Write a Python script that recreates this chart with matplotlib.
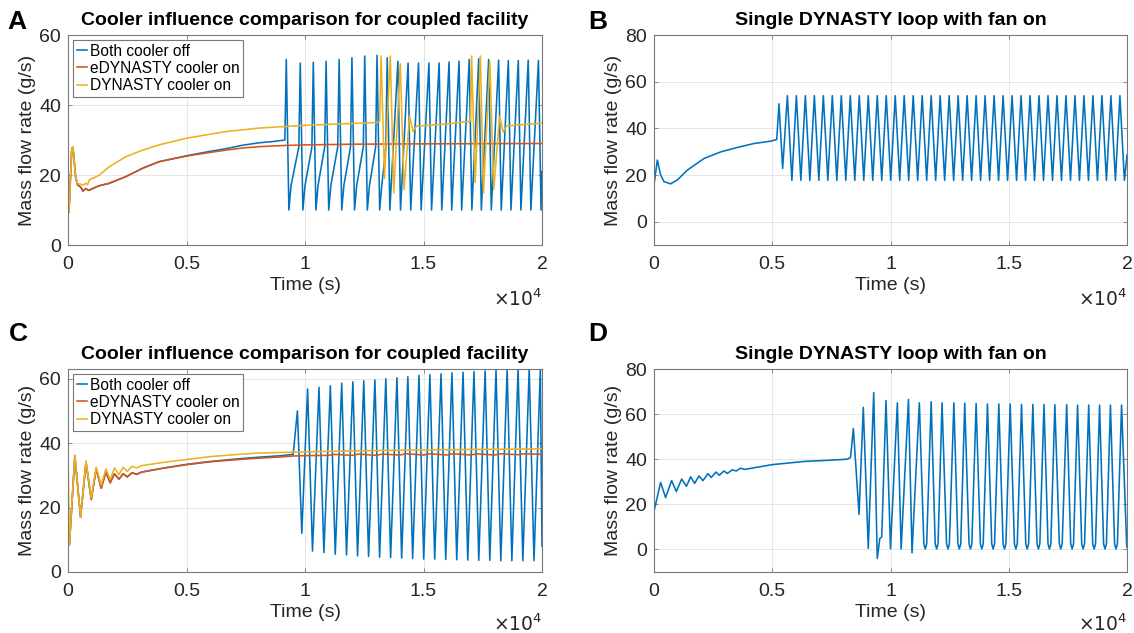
import numpy as np
import matplotlib
matplotlib.use("Agg")
import matplotlib.pyplot as plt

plt.rcParams['font.family'] = ['Liberation Sans', 'DejaVu Sans']

BLUE, RED, YEL = '#0072BD', '#D95319', '#EDB120'

# ---------------- Panel A : coupled facility ----------------
a_red_t = [0, 40, 160, 210, 320, 400, 530, 630, 750, 880, 1030, 1300, 1730, 2430, 3140, 3840,
           5000, 5950, 6650, 7360, 8060, 9000, 10000, 12000, 15000, 20000]
a_red_v = [17.5, 9.4, 27.6, 27.9, 19.5, 17.2, 16.6, 15.4, 16.1, 15.6, 16.1, 16.9, 17.6, 19.5, 21.9, 23.8,
           25.4, 26.4, 27.1, 27.7, 28.1, 28.4, 28.6, 28.8, 28.9, 29.0]

a_blue_pre_t = [0, 40, 160, 210, 320, 400, 530, 630, 750, 880, 1030, 1300, 1730, 2430, 3140, 3840,
                5000, 5950, 6650, 7360, 8060, 8700, 9150]
a_blue_pre_v = [17.5, 9.4, 27.6, 27.9, 19.5, 17.2, 16.6, 15.4, 16.1, 15.6, 16.1, 16.9, 17.6, 19.5, 21.9, 23.8,
                25.5, 26.7, 27.5, 28.5, 29.2, 29.6, 30.0]
a_blue_peak_t = [9210, 9800, 10350, 10890, 11440, 11980, 12520, 13040, 13470, 13920, 14350, 14790,
                 15230, 15660, 16080, 16500, 16930, 17330, 17750, 18170, 18580, 19000, 19420, 19850]
a_blue_peak_v = [53, 52, 52.2, 52.5, 53, 53.5, 54, 54.2, 53.5, 52.5, 52, 52, 52, 52, 52.3, 52.5,
                 53, 53.2, 53, 52.8, 52.7, 52.7, 52.8, 52.7]
a_blue_trough_v = 10.0
a_blue_knee_v = 17.0          # early cycles: quick recovery level
a_blue_top_v = 28.0           # early cycles: level before the next spike
a_blue_knee_until = 13100     # cycles after this rise straight to the next peak
a_blue_end = (20000, 21.0)

a_yel_t = [0, 40, 160, 210, 320, 400, 530, 630, 750, 820, 910, 1030, 1310, 1730, 2430, 3140, 3840,
           5000, 5950, 6650, 7360, 8060, 9000, 10000, 11500, 13000, 13150,
           13210, 13355, 13600, 13745, 14020, 14180, 14410, 14560, 14710, 15000, 16000, 16900, 16990,
           17030, 17180, 17400, 17530, 17800, 17965, 18210, 18370, 18500, 19000, 20000]
a_yel_v = [17.5, 9.4, 27.6, 27.9, 19.5, 17.5, 17.4, 17.1, 17.6, 17.2, 18.7, 19.0, 19.9, 22.3, 25.2, 27.1, 28.6,
           30.5, 31.6, 32.4, 32.9, 33.4, 33.8, 34.2, 34.6, 35.0, 35.3,
           54, 19, 54, 14.9, 51.8, 15.9, 36.8, 32.4, 34.0, 34.1, 34.6, 35.3, 35.5,
           54, 17.8, 54, 14.9, 52.5, 15.9, 36.8, 32.2, 34.0, 34.3, 34.8]

# ---------------- Panel B : single loop, fan on ----------------
b_pre_t = [0, 140, 280, 420, 700, 990, 1410, 2120, 2820, 3520, 4230, 4930, 5190, 5285, 5440]
b_pre_v = [15.8, 26.4, 20.0, 17.2, 16.2, 17.9, 22.1, 27.1, 29.9, 31.8, 33.5, 34.5, 35.2, 50.5, 22.8]
b_peak_t = [5640, 6020, 6400, 6780, 7160, 7540, 7920, 8300, 8680, 9060, 9440, 9820, 10200, 10580,
            10960, 11340, 11720, 12100, 12480, 12860, 13240, 13620, 14000, 14380, 14760, 15140,
            15520, 15900, 16280, 16660, 17040, 17420, 17800, 18180, 18560, 18940, 19320, 19700]
b_peak_v = 54.0
b_trough_v = 17.7
b_end = (20000, 28.5)

# ---------------- Panel C : coupled facility ----------------
c_early_t = [0, 60, 290, 530, 760, 980, 1190, 1400, 1600, 1780, 1960, 2150, 2330, 2500, 2700, 2900, 3100]
c_blue_early_v = [13, 8.5, 36, 17, 34, 22.5, 32, 26, 31, 27.7, 30.5, 28.8, 30.5, 29.5, 30.8, 30.3, 31]
c_red_early_v = [13, 8.5, 36, 17, 34, 22.5, 32, 26, 31, 27.7, 30.5, 28.8, 30.5, 29.5, 30.8, 30.3, 31]
c_yel_early_v = [35, 8.5, 36.3, 17, 34.5, 23, 32.5, 27, 32, 28.7, 32.3, 30.2, 32.5, 31.2, 32.8, 32.3, 33]
c_late_t = [4000, 5000, 6000, 7000, 8000, 9000, 9500]
c_blue_late_v = [32.2, 33.4, 34.3, 35.0, 35.6, 36.1, 36.5]
c_red_late_v = [32.2, 33.3, 34.2, 34.8, 35.3, 35.7, 36.0]
c_yel_late_v = [34.0, 34.9, 35.8, 36.4, 36.9, 37.1, 37.2]
c_red_tail_t = [10000, 11000, 11250, 12000, 12250, 13000, 13250, 14000, 14250, 15000, 15250,
                16000, 16250, 17000, 17250, 18000, 18250, 19000, 19250, 20000]
c_red_tail_v = [36.1, 36.2, 36.5, 36.2, 36.6, 36.2, 36.6, 36.3, 36.7, 36.3, 36.7,
                36.3, 36.7, 36.3, 36.7, 36.3, 36.7, 36.4, 36.7, 36.5]
c_yel_tail_t = [10000, 12000, 15000, 20000]
c_yel_tail_v = [37.3, 37.6, 37.9, 38.2]
c_blue_peak_t = [9680, 10110, 10590, 11070, 11550, 12020, 12480, 12950, 13410, 13880, 14340, 14810,
                 15270, 15740, 16200, 16670, 17130, 17600, 18060, 18530, 18990, 19460, 19930]
c_blue_peak_v = [50, 56.8, 57.3, 57.8, 58.6, 59, 59.3, 59.6, 60, 60.3, 60.6, 61, 61.2, 61.5, 61.8,
                 62, 62.2, 62.4, 62.6, 62.8, 63, 63, 63]
c_blue_trough_v = [12, 6.5, 6, 5.5, 5.3, 5, 4.8, 4.6, 4.5, 4.3, 4.2, 4, 4, 3.9, 3.8, 3.7, 3.6, 3.6,
                   3.5, 3.5, 3.5, 3.5]
c_blue_end = (20000, 8.0)

# ---------------- Panel D : single loop, fan on ----------------
d_pre_t = [0, 280, 490, 745, 945, 1170, 1370, 1550, 1720, 1900, 2070, 2280, 2420, 2620, 2760, 2960,
           3100, 3310, 3480, 3660, 3840, 4230, 5000, 6340, 7500, 8170, 8310]
d_pre_v = [16.9, 29.7, 23, 30.5, 25.7, 31.2, 28, 32.2, 29.3, 32.6, 30.5, 33.6, 31.9, 34.3, 32.9, 34.8,
           33.7, 35.3, 34.8, 36, 35.5, 36.2, 37.6, 39, 39.6, 40, 40.8]
d_tr_t = [8430, 8670, 8850, 9060, 9290, 9440, 9550, 9630, 9810, 10000, 10290, 10450, 10760, 10910]
d_tr_v = [53.6, 15.5, 63, 0.5, 69.5, -4, 5, 5.5, 66, 0.3, 65, 0.2, 66.5, -1.5]
d_peak_t = [11220, 11720, 12180, 12680, 13140, 13620, 14100, 14580, 15060, 15540, 16020, 16490,
            16950, 17450, 17910, 18380, 18840, 19300, 19770]
d_peak_v = [65, 65.5, 65, 65, 64.8, 64.7, 64.5, 64.5, 64.5, 64.3, 64.3, 64.3, 64.2, 64.2, 64, 64, 64, 64, 64]
d_trough_v = 0.2
d_shoulder_v = 2.5   # value ~60 s either side of each rounded trough
d_end = (20000, 3.0)

xtick_vals = [0, 5000, 10000, 15000, 20000]
xtick_labels = ['0', '0.5', '1', '1.5', '2']


def merge(*parts):
    t = np.concatenate([np.asarray(p[0], float) for p in parts])
    v = np.concatenate([np.asarray(p[1], float) for p in parts])
    o = np.argsort(t, kind='stable')
    return t[o], v[o]


# build A blue
pk = np.array(a_blue_peak_t, float)
nxt = np.append(pk[1:], a_blue_end[0] + 60)
early = pk < a_blue_knee_until
early_next = early[:-1]
a_blue_t, a_blue_v = merge(
    (a_blue_pre_t, a_blue_pre_v),
    (pk, a_blue_peak_v),
    (pk + 110, np.full(len(pk), a_blue_trough_v)),
    (pk[early] + 200, np.full(early.sum(), a_blue_knee_v)),
    (nxt[:-1][early_next] - 60, np.full(early_next.sum(), a_blue_top_v)),
    ([a_blue_end[0]], [a_blue_end[1]]))

# build B
bp = np.array(b_peak_t, float)
btr = (bp[:-1] + bp[1:]) / 2
b_t, b_v = merge((b_pre_t, b_pre_v), (bp, np.full(len(bp), b_peak_v)),
                 (btr, np.full(len(btr), b_trough_v)), ([19890], [b_trough_v]), ([b_end[0]], [b_end[1]]))

# build C
cp = np.array(c_blue_peak_t, float)
ctr = cp[:-1] + 0.43 * np.diff(cp)
c_blue_t, c_blue_v = merge((c_early_t, c_blue_early_v), (c_late_t, c_blue_late_v),
                           (cp, c_blue_peak_v), (ctr, c_blue_trough_v), ([c_blue_end[0]], [c_blue_end[1]]))
c_red_t, c_red_v = merge((c_early_t, c_red_early_v), (c_late_t, c_red_late_v), (c_red_tail_t, c_red_tail_v))
c_yel_t, c_yel_v = merge((c_early_t, c_yel_early_v), (c_late_t, c_yel_late_v), (c_yel_tail_t, c_yel_tail_v))

# build D
dp = np.array(d_peak_t, float)
dprev = np.insert(dp[:-1], 0, d_tr_t[-2])
dtr = ((dprev + dp) / 2)[1:]
d_t, d_v = merge((d_pre_t, d_pre_v), (d_tr_t, d_tr_v), (dp, d_peak_v),
                 (dtr, np.full(len(dtr), d_trough_v)),
                 (dtr - 60, np.full(len(dtr), d_shoulder_v)),
                 (dtr + 60, np.full(len(dtr), d_shoulder_v)),
                 ([19990], [1.0]), ([d_end[0]], [d_end[1]]))

fig = plt.figure(figsize=(11.34, 6.33), dpi=100)
W, H = 1134, 633


def mkax(l, t, r, b):
    return fig.add_axes([l / W, 1 - b / H, (r - l) / W, (b - t) / H])


axA = mkax(68, 35, 542, 245)
axB = mkax(654, 35, 1127, 245)
axC = mkax(68, 369, 542, 572)
axD = mkax(654, 369, 1127, 572)

LW = 1.15
axA.plot(a_blue_t, a_blue_v, color=BLUE, lw=LW, label='Both cooler off')
axA.plot(a_red_t, a_red_v, color=RED, lw=LW, label='eDYNASTY cooler on')
axA.plot(a_yel_t, a_yel_v, color=YEL, lw=LW, label='DYNASTY cooler on')
axB.plot(b_t, b_v, color=BLUE, lw=LW)
axC.plot(c_blue_t, c_blue_v, color=BLUE, lw=LW, label='Both cooler off')
axC.plot(c_red_t, c_red_v, color=RED, lw=LW, label='eDYNASTY cooler on')
axC.plot(c_yel_t, c_yel_v, color=YEL, lw=LW, label='DYNASTY cooler on')
axD.plot(d_t, d_v, color=BLUE, lw=LW)

FS = 14
settings = [
    (axA, (0, 60), [0, 20, 40, 60], 'Cooler influence comparison for coupled facility'),
    (axB, (-10, 80), [0, 20, 40, 60, 80], 'Single DYNASTY loop with fan on'),
    (axC, (0, 63), [0, 20, 40, 60], 'Cooler influence comparison for coupled facility'),
    (axD, (-10, 80), [0, 20, 40, 60, 80], 'Single DYNASTY loop with fan on'),
]
for ax, yl, yt, title in settings:
    ax.set_xlim(0, 20000)
    ax.set_ylim(*yl)
    ax.set_xticks(xtick_vals)
    ax.set_xticklabels(xtick_labels)
    ax.set_yticks(yt)
    ax.grid(True, color='#e3e3e3', lw=0.6)
    ax.set_axisbelow(True)
    for s in ax.spines.values():
        s.set_color('#777777')
        s.set_linewidth(0.8)
    ax.tick_params(direction='in', length=3, width=0.6, color='#777777', labelsize=FS,
                   labelcolor='#262626', top=True, right=True)
    ax.tick_params(axis='x', pad=8)
    ax.tick_params(axis='y', pad=5)
    ax.set_xlabel('Time (s)', fontsize=FS, color='#262626', labelpad=3)
    ax.set_ylabel('Mass flow rate (g/s)', fontsize=FS, color='#262626', labelpad=2)
    ax.set_title(title, fontsize=FS, fontweight='bold', pad=7)
    ax.text(1.0, -0.205, r'$\times10^{4}$', transform=ax.transAxes, ha='right', va='top',
            fontsize=FS - 0.5, color='#262626')

fig.text(17 / W, 1 - 22 / H, 'A', fontsize=19, fontweight='bold', ha='center', va='center')
fig.text(598 / W, 1 - 22 / H, 'B', fontsize=19, fontweight='bold', ha='center', va='center')
fig.text(18 / W, 1 - 334 / H, 'C', fontsize=19, fontweight='bold', ha='center', va='center')
fig.text(598 / W, 1 - 334 / H, 'D', fontsize=19, fontweight='bold', ha='center', va='center')

for ax in (axA, axC):
    leg = ax.legend(loc='upper left', fontsize=11.2, handlelength=0.7, handletextpad=0.15,
                    borderpad=0.25, labelspacing=0.15, borderaxespad=0.3, fancybox=False,
                    framealpha=1, edgecolor='#777777')
    leg.get_frame().set_linewidth(0.8)

fig.savefig('out.png', dpi=100)
